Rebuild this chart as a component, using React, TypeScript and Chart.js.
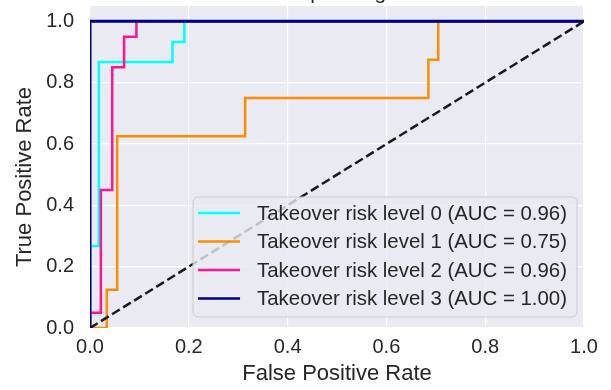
import React, { useEffect, useRef } from 'react';
import { Chart, registerables } from 'chart.js';

Chart.register(...registerables);

const titleText = 'Some extension of Receiver operating characteristic to multi-class';
const xTitle = 'False Positive Rate';
const yTitle = 'True Positive Rate';
const xTicks = [0, 0.2, 0.4, 0.6, 0.8, 1.0];
const yTicks = [0, 0.2, 0.4, 0.6, 0.8, 1.0];

const seriesLabels = [
  'Takeover risk level 0 (AUC = 0.96)',
  'Takeover risk level 1 (AUC = 0.75)',
  'Takeover risk level 2 (AUC = 0.96)',
  'Takeover risk level 3 (AUC = 1.00)',
];
const seriesColors = ['#00FFFF', '#FF8C00', '#FF1493', '#000080'];

const fpr0 = [0, 0, 0.018, 0.018, 0.167, 0.167, 0.191, 0.191, 1];
const tpr0 = [0, 0.267, 0.267, 0.867, 0.867, 0.933, 0.933, 1, 1];

const fpr1 = [0, 0.034, 0.034, 0.055, 0.055, 0.314, 0.314, 0.685, 0.685, 0.705, 0.705, 1];
const tpr1 = [0, 0, 0.125, 0.125, 0.625, 0.625, 0.75, 0.75, 0.875, 0.875, 1, 1];

const fpr2 = [0, 0, 0.022, 0.022, 0.045, 0.045, 0.069, 0.069, 0.094, 0.094, 1];
const tpr2 = [0, 0.05, 0.05, 0.45, 0.45, 0.85, 0.85, 0.95, 0.95, 1, 1];

const fpr3 = [0, 0, 1];
const tpr3 = [0, 1, 1];

const diagX = [0, 1];
const diagY = [0, 1];

const FONT = '"Liberation Sans", Arial, sans-serif';
const TEXT = '#262626';

const toPts = (xs: number[], ys: number[]) => xs.map((x, i) => ({ x, y: ys[i] }));

const bgPlugin = {
  id: 'bg',
  beforeDraw(chart: any) {
    const { ctx, chartArea: a } = chart;
    ctx.save();
    ctx.fillStyle = '#EAEAF2';
    ctx.fillRect(a.left, a.top, a.right - a.left, a.bottom - a.top);
    ctx.restore();
  },
};

const titlePlugin = {
  id: 'toptitle',
  afterDraw(chart: any) {
    const { ctx, chartArea: a } = chart;
    ctx.save();
    ctx.font = `21px ${FONT}`;
    ctx.fillStyle = TEXT;
    ctx.textAlign = 'center';
    ctx.textBaseline = 'alphabetic';
    ctx.fillText(titleText, (a.left + a.right) / 2, -1);
    // y axis label
    ctx.font = `22px ${FONT}`;
    ctx.textBaseline = 'middle';
    ctx.translate(25, 177);
    ctx.rotate(-Math.PI / 2);
    ctx.fillText(yTitle, 0, 0);
    ctx.restore();
  },
};

const legendPlugin = {
  id: 'boxlegend',
  afterDatasetsDraw(chart: any) {
    const { ctx, chartArea: a } = chart;
    const items = chart.data.datasets.filter((d: any) => d.label);
    ctx.save();
    ctx.font = `20.4px ${FONT}`;
    const w = Math.max(...items.map((d: any) => ctx.measureText(d.label).width));
    const right = a.right - 7;
    const bottom = a.bottom - 11;
    const top = bottom - 120;
    const textX = right - 10 - w;
    const h2 = textX - 17;
    const h1 = h2 - 42;
    const left = h1 - 5;
    ctx.beginPath();
    (ctx as any).roundRect(left, top, right - left, bottom - top, 5);
    ctx.fillStyle = 'rgba(234,234,242,0.8)';
    ctx.fill();
    ctx.strokeStyle = '#CCCCCC';
    ctx.lineWidth = 1;
    ctx.stroke();
    items.forEach((d: any, i: number) => {
      const yc = top + 16 + i * 28.5;
      ctx.beginPath();
      ctx.moveTo(h1, yc);
      ctx.lineTo(h2, yc);
      ctx.strokeStyle = d.borderColor;
      ctx.lineWidth = 2.5;
      ctx.stroke();
      ctx.fillStyle = TEXT;
      ctx.textAlign = 'left';
      ctx.textBaseline = 'middle';
      ctx.fillText(d.label, textX, yc + 1);
    });
    ctx.restore();
  },
};

export default function App() {
  const ref = useRef<HTMLCanvasElement | null>(null);
  useEffect(() => {
    if (!ref.current) return;
    const curves = [
      [fpr0, tpr0],
      [fpr1, tpr1],
      [fpr2, tpr2],
      [fpr3, tpr3],
    ];
    const datasets: any[] = curves.map(([xs, ys], i) => ({
      label: seriesLabels[i],
      data: toPts(xs, ys),
      showLine: true,
      borderColor: seriesColors[i],
      backgroundColor: seriesColors[i],
      borderWidth: i === 3 ? 3 : 2.5,
      pointRadius: 0,
      tension: 0,
      fill: false,
      order: 10 - i,
    }));
    datasets.push({
      label: '',
      data: toPts(diagX, diagY),
      showLine: true,
      borderColor: '#1A1A1A',
      borderWidth: 2.5,
      borderDash: [9, 4],
      pointRadius: 0,
      fill: false,
      order: 1,
    });
    const chart = new Chart(ref.current, {
      type: 'scatter',
      data: { datasets },
      plugins: [bgPlugin, legendPlugin, titlePlugin],
      options: {
        animation: false,
        responsive: false,
        devicePixelRatio: 1,
        layout: { padding: { left: 0, right: 27, top: 6, bottom: 0 } },
        plugins: { legend: { display: false }, title: { display: false }, tooltip: { enabled: false } },
        scales: {
          x: {
            type: 'linear',
            min: 0,
            max: 1,
            afterBuildTicks: (s: any) => { s.ticks = xTicks.map((v) => ({ value: v })); },
            afterFit: (s: any) => { s.height = 62; s.paddingLeft = 0; s.paddingRight = 0; },
            grid: { color: '#FFFFFF', lineWidth: 1.2, drawTicks: false },
            border: { display: false },
            ticks: {
              color: TEXT,
              font: { size: 20, family: FONT },
              padding: 7,
              maxRotation: 0,
              callback: (v: any) => Number(v).toFixed(1),
            },
            title: {
              display: true,
              text: xTitle,
              color: TEXT,
              font: { size: 22, family: FONT },
              padding: { top: 0, bottom: 3 },
            },
          },
          y: {
            type: 'linear',
            min: 0,
            max: 1.05,
            afterBuildTicks: (s: any) => { s.ticks = yTicks.map((v) => ({ value: v })); },
            afterFit: (s: any) => { s.width = 90; s.paddingTop = 0; s.paddingBottom = 0; },
            grid: { color: '#FFFFFF', lineWidth: 1.2, drawTicks: false },
            border: { display: false },
            ticks: {
              color: TEXT,
              font: { size: 20, family: FONT },
              padding: 16,
              callback: (v: any) => Number(v).toFixed(1),
            },
            title: { display: false },
          },
        },
      } as any,
    });
    return () => chart.destroy();
  }, []);
  return (
    <div style={{ position: 'absolute', left: 0, top: 0, width: 611, height: 390 }}>
      <canvas ref={ref} width={611} height={390} style={{ display: 'block' }} />
    </div>
  );
}
